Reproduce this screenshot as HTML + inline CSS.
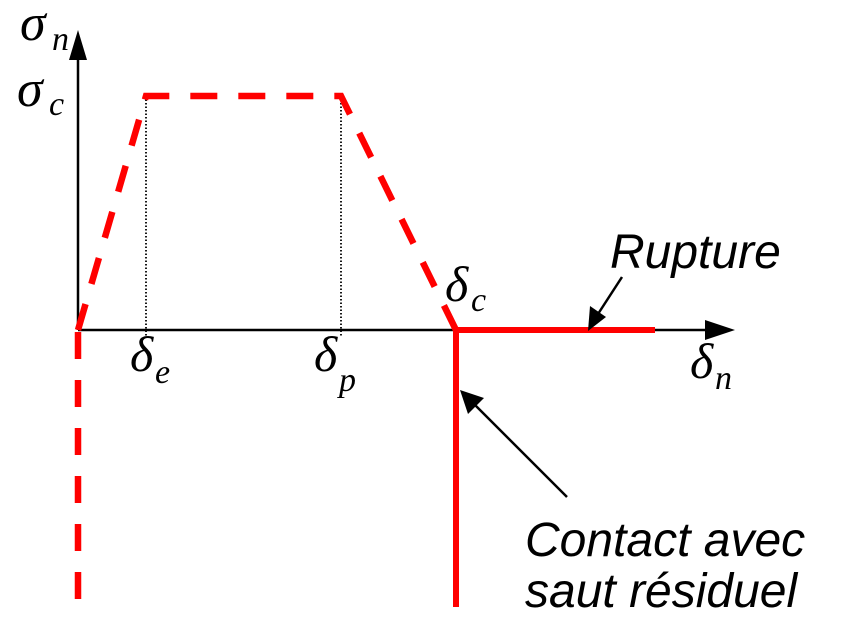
<!DOCTYPE html>
<html><head><style>html,body{margin:0;padding:0;background:#fff}svg{display:block}</style></head>
<body>
<svg width="843" height="637" viewBox="0 0 843 637" xmlns="http://www.w3.org/2000/svg">
<line x1="78" y1="60" x2="78" y2="330" stroke="#000" stroke-width="2.5"/>
<polygon points="78,30 69,60 87,60" fill="#000"/>
<line x1="78" y1="330" x2="705" y2="330" stroke="#000" stroke-width="2.5"/>
<polygon points="735,330 705,320 705,340" fill="#000"/>
<line x1="146" y1="96" x2="146" y2="336" stroke="#000" stroke-width="1.8" stroke-dasharray="1.5,2"/>
<line x1="341" y1="96" x2="341" y2="336" stroke="#000" stroke-width="1.8" stroke-dasharray="1.5,2"/>
<polyline points="78,330 146,96 341,96 456,330" fill="none" stroke="#f00" stroke-width="6.5" stroke-dasharray="27,21"/>
<line x1="78" y1="332" x2="78" y2="600" stroke="#f00" stroke-width="6.5" stroke-dasharray="27,21"/>
<line x1="456" y1="330" x2="655" y2="330" stroke="#f00" stroke-width="6"/>
<line x1="456" y1="327" x2="456" y2="607" stroke="#f00" stroke-width="6"/>
<line x1="622" y1="277" x2="598" y2="314" stroke="#000" stroke-width="2.5"/>
<polygon points="588,331 590,306 606,317" fill="#000"/>
<line x1="567" y1="497" x2="472" y2="402" stroke="#000" stroke-width="2.5"/>
<polygon points="460,390 484,398 468,414" fill="#000"/>
<g font-family="Liberation Serif, serif" font-style="italic" fill="#000">
<text x="20" y="40" font-size="52">σ</text><text x="52" y="50" font-size="34">n</text>
<text x="17" y="106" font-size="52">σ</text><text x="49" y="115" font-size="34">c</text>
<text x="130" y="371" font-size="50">δ</text><text x="155" y="383" font-size="34">e</text>
<text x="314" y="371" font-size="50">δ</text><text x="339" y="391" font-size="34">p</text>
<text x="445" y="301" font-size="50">δ</text><text x="471" y="311" font-size="34">c</text>
<text x="690" y="378" font-size="50">δ</text><text x="715" y="389" font-size="34">n</text>
</g>
<g font-family="Liberation Sans, sans-serif" font-style="italic" font-size="48" fill="#000">
<text x="610" y="268">Rupture</text>
<text x="525" y="556">Contact avec</text>
<text x="525" y="607">saut résiduel</text>
</g>
</svg>
</body></html>
